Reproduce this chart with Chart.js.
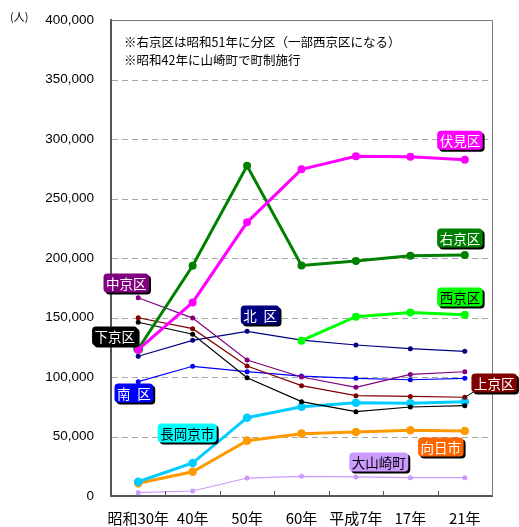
<!DOCTYPE html>
<html>
<head>
<meta charset="utf-8">
<script src="https://cdn.jsdelivr.net/npm/chart.js@4/dist/chart.umd.min.js"></script>
<style>
  html, body { margin: 0; padding: 0; background: #fff; }
</style>
</head>
<body>
<canvas id="population-chart" width="519" height="527"></canvas>
<script>
// 区・市町別人口の推移
const years = ['昭和30年', '40年', '50年', '60年', '平成7年', '17年', '21年'];

const fushimi    = [123000, 162700, 230000, 274500, 285400, 285100, 282600];
const ukyo       = [123500, 193500, 277500, 193800, 197500, 201900, 202500];
const nishikyo   = [null, null, null, 130500, 150700, 154300, 152400];
const nakagyo    = [166600, 149500, 114300, 100000, 91300, 102200, 104400];
const kamigyo    = [149800, 140600, 109200, 92700, 84300, 83700, 83000];
const shimogyo   = [146000, 135900, 99400, 79300, 70900, 74800, 75900];
const kita       = [117400, 130800, 138400, 131000, 126900, 123800, 121600];
const minami     = [96100, 109000, 104500, 100800, 98900, 97700, 98900];
const nagaokakyo = [12000, 27700, 65800, 75000, 78400, 77900, 79300];
const muko       = [10700, 20400, 46500, 52400, 53800, 55200, 54600];
const oyamazaki  = [2800, 4200, 15100, 16500, 16000, 15400, 15400];

const notes = [
    '※右京区は昭和51年に分区（一部西京区になる）',
    '※昭和42年に山崎町で町制施行'
];

// name tags: at = [category index, value]
const tags = [
    { text: '伏見区', at: [5.91, 299000], fill: '#FF00FF', color: '#fff' },
    { text: '右京区', at: [5.91, 216800], fill: '#008000', color: '#fff' },
    { text: '西京区', at: [5.91, 167200], fill: '#00FF00', color: '#000' },
    { text: '中京区', at: [-0.22, 179000], fill: '#800080', color: '#fff' },
    { text: '下京区', at: [-0.43, 134400], fill: '#000000', color: '#fff' },
    { text: '北\u2002区', at: [2.24, 152100], fill: '#000080', color: '#fff' },
    { text: '南\u2002区', at: [-0.08, 86600], fill: '#0000FF', color: '#fff' },
    { text: '上京区', at: [6.54, 95000], fill: '#800000', color: '#fff', leader: 3 },
    { text: '長岡京市', at: [0.90, 52900], fill: '#00FFFF', color: '#000' },
    { text: '向日市', at: [5.56, 41200], fill: '#FF6600', color: '#fff' },
    { text: '大山崎町', at: [4.42, 28600], fill: '#CC99FF', color: '#000' }
];

function bold(label, values, color, radius) {
    return {
        label: label, data: values,
        borderColor: color, backgroundColor: color,
        borderWidth: 3, pointRadius: radius || 4, pointBorderWidth: 0
    };
}
function thin(label, values, color) {
    return {
        label: label, data: values,
        borderColor: color, backgroundColor: color,
        borderWidth: 1.2, pointRadius: 2.5, pointBorderWidth: 0
    };
}

const datasets = [
    bold('伏見区', fushimi, '#FF00FF'),
    bold('右京区', ukyo, '#008000', [5, 4, 4, 4, 4, 4, 4]),
    bold('西京区', nishikyo, '#00FF00'),
    thin('上京区', kamigyo, '#800000'),
    thin('中京区', nakagyo, '#800080'),
    thin('下京区', shimogyo, '#000000'),
    thin('北区', kita, '#000080'),
    thin('南区', minami, '#0000FF'),
    bold('長岡京市', nagaokakyo, '#00CCFF', 4.3),
    bold('向日市', muko, '#FF9900', 4.3),
    thin('大山崎町', oyamazaki, '#CC99FF')
];

const jpFont = '"Noto Sans CJK JP", sans-serif';

function roundRect(ctx, x, y, w, h, r) {
    ctx.beginPath();
    ctx.moveTo(x + r, y);
    ctx.arcTo(x + w, y, x + w, y + h, r);
    ctx.arcTo(x + w, y + h, x, y + h, r);
    ctx.arcTo(x, y + h, x, y, r);
    ctx.arcTo(x, y, x + w, y, r);
    ctx.closePath();
}

const decorations = {
    id: 'decorations',
    beforeDraw(chart) {
        const ctx = chart.ctx;
        ctx.save();
        ctx.fillStyle = '#fff';
        ctx.fillRect(0, 0, chart.width, chart.height);
        ctx.restore();
    },
    beforeDatasetsDraw(chart) {
        // dashed horizontal grid
        const ctx = chart.ctx;
        const a = chart.chartArea;
        const ys = chart.scales.y;
        ctx.save();
        ctx.strokeStyle = '#A6A6A6';
        ctx.lineWidth = 1;
        ctx.setLineDash([6, 4]);
        ys.ticks.forEach(t => {
            if (t.value === ys.min || t.value === ys.max) return;
            const y = Math.round(ys.getPixelForValue(t.value)) + 0.5;
            ctx.beginPath();
            ctx.moveTo(a.left + 1, y);
            ctx.lineTo(a.right, y);
            ctx.stroke();
        });
        ctx.restore();
    },
    afterDatasetsDraw(chart) {
        const ctx = chart.ctx;
        const a = chart.chartArea;
        const xs = chart.scales.x, ys = chart.scales.y;
        ctx.save();

        // frame on top and right
        ctx.strokeStyle = '#777';
        ctx.lineWidth = 1;
        ctx.beginPath();
        ctx.moveTo(a.left, a.top + 0.5);
        ctx.lineTo(a.right + 0.5, a.top + 0.5);
        ctx.lineTo(a.right + 0.5, a.bottom);
        ctx.stroke();

        // inward tick marks on the category axis
        ctx.strokeStyle = '#555';
        const step = (a.right - a.left) / years.length;
        for (let k = 1; k < years.length; k++) {
            const x = Math.round(a.left + k * step) + 0.5;
            ctx.beginPath();
            ctx.moveTo(x, a.bottom - 5);
            ctx.lineTo(x, a.bottom);
            ctx.stroke();
        }

        // unit
        ctx.fillStyle = '#000';
        ctx.font = '11px ' + jpFont;
        ctx.textAlign = 'left';
        ctx.textBaseline = 'middle';
        ctx.fillText('(人)', 10, 17);

        // notes
        ctx.font = '12.5px ' + jpFont;
        notes.forEach((t, i) => ctx.fillText(t, a.left + 13, a.top + 22 + i * 18));

        // name tags
        ctx.font = '13.5px ' + jpFont;
        tags.forEach(t => {
            const cx = xs.getPixelForValue(t.at[0]);
            const cy = ys.getPixelForValue(t.at[1]);
            const w = ctx.measureText(t.text).width + 5;
            const h = 19;
            const x = cx - w / 2, y = cy - h / 2;
            if (t.leader !== undefined) {
                const pt = chart.getDatasetMeta(t.leader).data[years.length - 1];
                ctx.strokeStyle = '#000';
                ctx.lineWidth = 1;
                ctx.beginPath();
                ctx.moveTo(pt.x, pt.y);
                ctx.lineTo(x + 3, y + h - 1);
                ctx.stroke();
            }
            ctx.fillStyle = '#000';
            roundRect(ctx, x + 2, y + 2, w, h, 4);
            ctx.fill();
            ctx.fillStyle = t.fill;
            roundRect(ctx, x, y, w, h, 4);
            ctx.fill();
            ctx.fillStyle = t.color;
            ctx.textAlign = 'center';
            ctx.fillText(t.text, cx, cy + 1);
        });
        ctx.restore();
    }
};

new Chart(document.getElementById('population-chart'), {
    type: 'line',
    data: { labels: years, datasets: datasets },
    options: {
        responsive: false,
        animation: false,
        events: [],
        layout: { padding: { top: 20, right: 27, bottom: 0, left: 0 } },
        plugins: {
            legend: { display: false },
            tooltip: { enabled: false },
            title: { display: false }
        },
        elements: { line: { tension: 0 } },
        scales: {
            x: {
                offset: true,
                grid: { display: false, drawTicks: false },
                border: { display: true, color: '#555', width: 2 },
                ticks: {
                    color: '#000', padding: 13, maxRotation: 0, autoSkip: false,
                    font: { family: jpFont, size: 15 }
                },
                afterFit(scale) {
                    scale.height = 31;
                    scale.paddingLeft = 0;
                    scale.paddingRight = 0;
                }
            },
            y: {
                min: 0, max: 400000,
                grid: { display: false, drawTicks: false },
                border: { display: true, color: '#555', width: 2 },
                ticks: {
                    stepSize: 50000, color: '#000', padding: 17,
                    font: { family: '"Liberation Sans", Arial, sans-serif', size: 13.5 },
                    callback: v => v.toLocaleString('en-US')
                },
                afterFit(scale) {
                    scale.width = 111;
                    scale.paddingTop = 0;
                    scale.paddingBottom = 0;
                }
            }
        }
    },
    plugins: [decorations]
});
</script>
</body>
</html>
